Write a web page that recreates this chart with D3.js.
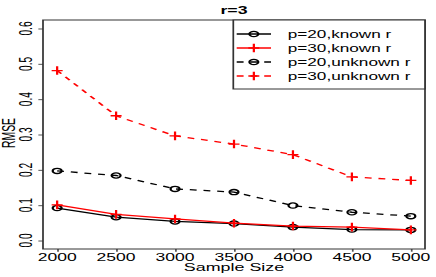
<!DOCTYPE html>
<html><head><meta charset="utf-8">
<script src="https://cdn.jsdelivr.net/npm/d3@7"></script>
<style>
html,body{margin:0;padding:0;background:#fff;}
svg{display:block;}
text{font-family:"Liberation Sans",Arial,Helvetica,sans-serif;}
</style></head>
<body>
<svg id="chart" width="436" height="277"></svg>
<script>
const sampleSizes = [2000, 2500, 3000, 3500, 4000, 4500, 5000];
const knownP20   = [0.092, 0.066, 0.054, 0.048, 0.038, 0.031, 0.030];
const knownP30   = [0.101, 0.074, 0.061, 0.049, 0.041, 0.038, 0.030];
const unknownP20 = [0.197, 0.184, 0.146, 0.137, 0.099, 0.080, 0.069];
const unknownP30 = [0.481, 0.353, 0.296, 0.273, 0.243, 0.180, 0.170];
const xTicks = [2000, 2500, 3000, 3500, 4000, 4500, 5000];
const yTicks = [0.0, 0.1, 0.2, 0.3, 0.4, 0.5, 0.6];
const seriesNames = ["p=20,known r", "p=30,known r", "p=20,unknown r", "p=30,unknown r"];
const title = "r=3", xTitle = "Sample Size", yTitle = "RMSE";

const series = [
  {name: seriesNames[0], values: knownP20,   color: "#000000", dash: null,  shape: "circle"},
  {name: seriesNames[1], values: knownP30,   color: "#FF0000", dash: null,  shape: "plus"},
  {name: seriesNames[2], values: unknownP20, color: "#000000", dash: "4,4", shape: "circle"},
  {name: seriesNames[3], values: unknownP30, color: "#FF0000", dash: "4,4", shape: "plus"}
];

const k = 1.72; // horizontal stretch of the whole picture
const svg = d3.select("#chart");
const g = svg.append("g").attr("transform", `scale(${k},1)`);

const pL = 43 / k, pR = 425 / k, pT = 20, pB = 249;
const x = d3.scaleLinear().domain([1880, 5120]).range([pL, pR]);
const y = d3.scaleLinear().domain([-0.024, 0.624]).range([pB, pT]);
const fs = 10.2, lw = 1.3, tick = 2.7;
const boxColor = "#333";

// axes ticks
const xAxis = g.append("g").attr("transform", `translate(0,${pB})`)
  .call(d3.axisBottom(x).tickValues(xTicks).tickSize(tick).tickFormat(""));
const yAxis = g.append("g").attr("transform", `translate(${pL},0)`)
  .call(d3.axisLeft(y).tickValues(yTicks).tickSize(tick).tickFormat(""));
[xAxis, yAxis].forEach(a => {
  a.select(".domain").remove();
  a.selectAll("line").attr("stroke", "#555").attr("stroke-width", 1);
});
// tick labels
g.append("g").selectAll("text").data(xTicks).join("text")
  .attr("x", d => x(d)).attr("y", 261.5).attr("text-anchor", "middle")
  .attr("font-size", fs).attr("fill", "#000").text(d => d);
g.append("g").selectAll("text").data(yTicks).join("text")
  .attr("transform", d => `translate(${32 / k},${y(d)}) rotate(-90)`)
  .attr("text-anchor", "middle").attr("font-size", fs).attr("fill", "#000")
  .text(d => d.toFixed(1));

// box
g.append("rect").attr("x", pL).attr("y", pT).attr("width", pR - pL)
  .attr("height", pB - pT).attr("fill", "none").attr("stroke", boxColor).attr("stroke-width", 1);

// titles
g.append("text").attr("x", (pL + pR) / 2).attr("y", 14).attr("text-anchor", "middle")
  .attr("font-size", 10.3).attr("font-weight", "bold").text(title);
g.append("text").attr("x", (pL + pR) / 2).attr("y", 271.5).attr("text-anchor", "middle")
  .attr("font-size", 10.4).text(xTitle);
g.append("text").attr("transform", `translate(${14.5 / k},${133}) rotate(-90)`)
  .attr("text-anchor", "middle").attr("font-size", 10.4).text(yTitle);

function marker(sel, shape, color) {
  if (shape === "circle") {
    sel.append("circle").attr("r", 2.6).attr("fill", "none").attr("stroke", color).attr("stroke-width", lw);
  } else {
    const sh = 3.2, sv = 4.3;
    sel.append("path").attr("d", `M${-sh},0H${sh}M0,${-sv}V${sv}`).attr("fill", "none")
      .attr("stroke", color).attr("stroke-width", lw);
  }
}

const line = d3.line().x((d, i) => x(sampleSizes[i])).y(d => y(d));
series.forEach(s => {
  g.append("path").datum(s.values).attr("d", line).attr("fill", "none")
    .attr("stroke", s.color).attr("stroke-width", lw)
    .attr("stroke-dasharray", s.dash);
  g.append("g").selectAll("g").data(s.values).join("g")
    .attr("transform", (d, i) => `translate(${x(sampleSizes[i])},${y(d)})`)
    .each(function () { marker(d3.select(this), s.shape, s.color); });
});

// legend
const lg = g.append("g");
lg.append("rect").attr("x", 233.3 / k).attr("y", pT).attr("width", pR - 233.3 / k)
  .attr("height", 89 - pT).attr("fill", "#fff").attr("stroke", boxColor).attr("stroke-width", 1);
series.forEach((s, i) => {
  const yy = 34 + i * 14;
  const x0 = 236.7 / k, x1 = 271 / k, xm = (x0 + x1) / 2;
  lg.append("line").attr("x1", x0).attr("x2", x1).attr("y1", yy).attr("y2", yy)
    .attr("stroke", s.color).attr("stroke-width", lw).attr("stroke-dasharray", s.dash);
  const m = lg.append("g").attr("transform", `translate(${xm},${yy})`);
  marker(m, s.shape, s.color);
  lg.append("text").attr("x", 287.7 / k).attr("y", yy).attr("dy", "0.36em")
    .attr("font-size", 10.0).text(s.name);
});
</script>
</body></html>
